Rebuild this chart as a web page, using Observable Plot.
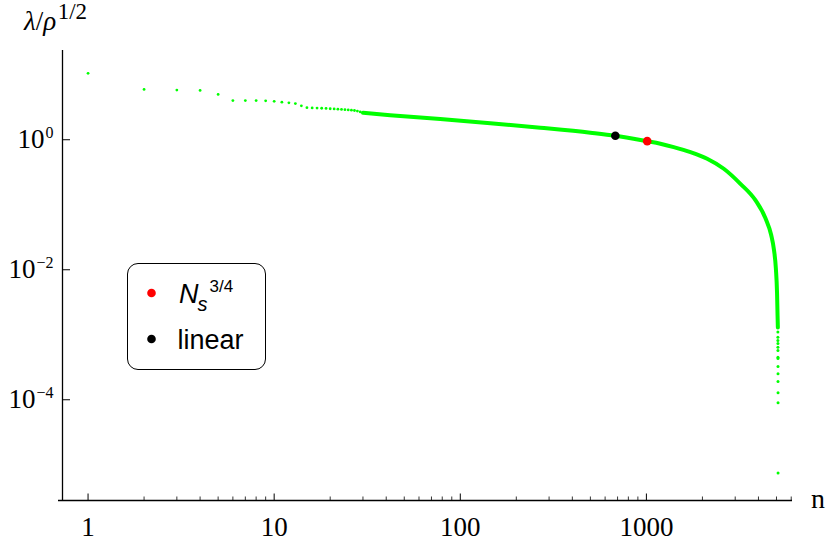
<!DOCTYPE html>
<html>
<head>
<meta charset="utf-8">
<script src="https://cdn.jsdelivr.net/npm/d3@7"></script>
<script src="https://cdn.jsdelivr.net/npm/@observablehq/plot@0.6"></script>
<style>
  body { margin: 0; background: #fff; }
  #wrap { position: relative; width: 830px; height: 543px; }
  #legend { position: absolute; left: 127px; top: 263px; width: 139px; height: 107px;
            box-sizing: border-box; border: 1.5px solid #000; border-radius: 11px; background: #fff; }
  #legend svg { position: absolute; left: -1.5px; top: -1.5px; overflow: visible; }
</style>
</head>
<body>
<div id="wrap"></div>
<script>
// ---- data ----
// low, degenerate eigenvalues (discrete dots)
const lowN = [1, 2, 3, 4, 5, 6, 7, 8, 9, 10, 11, 12, 13, 14, 15, 16, 17, 18, 19, 20, 21, 22, 23, 24, 25, 26, 27, 28, 29];
const lowLambda = [10.5, 5.94, 5.8, 5.73, 4.98, 4.0, 4.0, 4.0, 3.97, 3.9, 3.78, 3.7, 3.6, 3.33,
                   3.11, 3.09, 3.07, 3.05, 3.03, 3.0, 2.98, 2.95, 2.93, 2.9, 2.88, 2.85, 2.82, 2.76, 2.68];
// dense part of the spectrum (drawn as a thick line)
const curveN = [30, 42, 78, 145, 269, 500, 681, 1000, 1189, 1402, 1726, 2120, 2605, 3200, 3860, 4368, 4675, 4852, 4962, 5035, 5066, 5085];
const curveLambda = [2.60, 2.39, 2.09, 1.80, 1.53, 1.28, 1.15, 0.952, 0.868, 0.770, 0.644, 0.510, 0.358, 0.210, 0.1165, 0.0614, 0.0348, 0.01976, 0.01045, 0.00431, 0.00198, 0.00129];
// last, isolated eigenvalues
const tailN = [5086, 5087, 5088, 5089, 5090, 5091, 5092, 5093, 5094, 5095, 5096, 5097, 5098, 5099];
const tailLambda = [1.10e-3, 9.18e-4, 8.17e-4, 7.34e-4, 6.44e-4, 5.73e-4, 4.52e-4, 4.31e-4, 3.25e-4, 2.51e-4, 1.91e-4, 1.28e-4, 9.0e-5, 7.5e-6];
// highlighted points
const markerKeys = ["Ns34", "linear"];
const markerN = [1010, 681];
const markerLambda = [0.952, 1.15];
const markerColors = ["#ff0000", "#000000"];
// ticks and ranges
const xMajorTicks = [1, 10, 100, 1000];
const xMinorTicks = [2, 3, 4, 5, 6, 7, 8, 9, 20, 30, 40, 50, 60, 70, 80, 90, 200, 300, 400, 500, 600, 700, 800, 900, 2000, 3000, 4000, 5000, 6000];
const yMajorTicks = [1, 0.01, 0.0001];
const xDomain = [0.729, 6095];
const yDomain = [2.82e-6, 23.6];

const rows = (ns, vs) => ns.map((n, i) => ({n, v: vs[i]}));
const lowData = rows(lowN, lowLambda);
const curveData = rows(curveN, curveLambda);
const tailData = rows(tailN, tailLambda);
const markerData = markerN.map((n, i) => ({n, v: markerLambda[i], color: markerColors[i], key: markerKeys[i]}));

const serif = '"Liberation Serif", "Times New Roman", serif';
const sans = '"Liberation Sans", Arial, sans-serif';
const GREEN = "#00ff00";
const plotH = 543 - 50 - 43;
const plotW = 830 - 62 - 38;

const plot = Plot.plot({
  width: 830, height: 543,
  marginLeft: 62, marginRight: 38, marginTop: 50, marginBottom: 43,
  style: {fontFamily: serif, fontSize: "27px", background: "#fff", color: "#000"},
  x: {type: "log", domain: xDomain, axis: null},
  y: {type: "log", domain: yDomain, axis: null},
  color: {type: "identity"},
  marks: [
    Plot.line(curveData, {x: "n", y: "v", stroke: GREEN, strokeWidth: 4, curve: "monotone-x"}),
    Plot.dot(lowData, {x: "n", y: "v", r: 1.4, fill: GREEN, stroke: null}),
    Plot.dot(tailData, {x: "n", y: "v", r: 1.5, fill: GREEN, stroke: null}),
    Plot.dot(markerData, {x: "n", y: "v", r: 4.3, fill: "color", stroke: null}),
    // axes lines
    Plot.ruleY([yDomain[0]], {stroke: "#000", strokeWidth: 1.3, insetLeft: -4}),
    Plot.ruleX([xDomain[0]], {stroke: "#000", strokeWidth: 1.3}),
    // x ticks (inward)
    Plot.tickX(xMajorTicks, {x: d => d, stroke: "#000", strokeWidth: 1, insetTop: plotH - 6.5}),
    Plot.tickX(xMinorTicks, {x: d => d, stroke: "#000", strokeWidth: 0.8, insetTop: plotH - 3.5}),
    // y ticks (inward)
    Plot.tickY(yMajorTicks, {y: d => d, stroke: "#000", strokeWidth: 1, insetRight: plotW - 8}),
    // tick labels
    Plot.text(xMajorTicks, {x: d => d, frameAnchor: "bottom", dy: 16, lineAnchor: "top",
      text: d => String(d), fontSize: 27, fontFamily: serif, fill: "#000"}),
    Plot.text(yMajorTicks, {y: d => d, frameAnchor: "left", dx: -9, textAnchor: "end", lineAnchor: "middle",
      text: d => "10^" + String(Math.round(Math.log10(d))).replace("-", "\u2212"), fontSize: 27, fontFamily: serif, fill: "#000"})
  ]
});

// superscripts for the y tick labels
const NS = "http://www.w3.org/2000/svg";
plot.querySelectorAll("text").forEach(t => {
  const m = /^10\^(.+)$/.exec(t.textContent);
  if (!m) return;
  while (t.firstChild) t.removeChild(t.firstChild);
  const a = document.createElementNS(NS, "tspan");
  a.textContent = "10";
  const b = document.createElementNS(NS, "tspan");
  b.setAttribute("font-size", "16");
  b.setAttribute("dy", "-10");
  b.setAttribute("dx", "1");
  b.textContent = m[1];
  t.appendChild(a); t.appendChild(b);
});

// axis titles
const svg = d3.select(plot);
const yl = svg.append("text").attr("x", 24).attr("y", 30).attr("text-anchor", "start")
  .attr("font-family", serif).attr("font-size", 27).attr("fill", "#000");
yl.append("tspan").attr("font-style", "italic").text("\u03bb");
yl.append("tspan").text("/");
yl.append("tspan").attr("font-style", "italic").text("\u03c1");
yl.append("tspan").attr("font-size", 23).attr("dy", -11).attr("dx", 1.5).text("1/2");
svg.append("text").attr("x", 811).attr("y", 508).attr("text-anchor", "start")
  .attr("font-family", serif).attr("font-size", 28).attr("fill", "#000").text("n");

const wrap = document.getElementById("wrap");
wrap.appendChild(plot);

// legend
const leg = document.createElement("div");
leg.id = "legend";
wrap.appendChild(leg);
const ls = d3.select(leg).append("svg").attr("width", 139).attr("height", 107);
markerData.forEach((d, i) => {
  const cy = 30 + i * 46;
  ls.append("circle").attr("cx", 24.5).attr("cy", cy).attr("r", 4.3).attr("fill", d.color);
  const t = ls.append("text").attr("x", 52).attr("y", cy + 10).attr("text-anchor", "start")
    .attr("font-family", sans).attr("font-size", 27).attr("fill", "#000");
  if (d.key === "Ns34") {
    t.append("tspan").attr("font-style", "italic").text("N");
    t.append("tspan").attr("font-style", "italic").attr("font-size", 20).attr("dy", 8).attr("dx", -1).text("s");
    t.append("tspan").attr("font-size", 17).attr("dy", -19.5).attr("dx", 2).text("3/4");
  } else {
    t.attr("x", 50.5).text("linear");
  }
});
</script>
</body>
</html>
